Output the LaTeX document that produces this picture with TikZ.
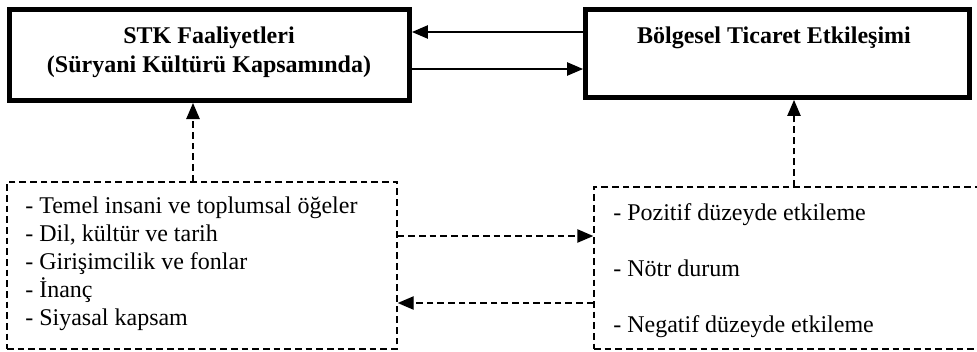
\documentclass[tikz,border=0pt]{standalone}
\usepackage{fontspec}
\setmainfont{Liberation Serif}
\usetikzlibrary{arrows.meta}

\tikzset{
  mainbox/.style={draw, line width=4pt, inner sep=0pt},
  listbox/.style={draw, line width=1.1pt, dash pattern=on 5pt off 3pt, inner sep=0pt},
  flow/.style={line width=1.1pt, -{Triangle[length=12pt,width=10pt]}},
  dflow/.style={flow, dash pattern=on 5pt off 3pt},
}

\begin{document}
\begin{tikzpicture}[x=0.75pt, y=-0.75pt, font=\fontsize{18}{21.5}\selectfont]
			\clip (0,0) rectangle (977,351);
			% ana kutular
			\node[mainbox, minimum width=299.7pt, minimum height=68pt] (stk) at (209.5,55) {};
			\node[mainbox, minimum width=287.7pt, minimum height=65.7pt] (bte) at (777.5,53.5) {};
			\node[anchor=base, font=\fontsize{18}{21.5}\selectfont\bfseries] (stk1) at (209,43) {STK Faaliyetleri};
			\node[anchor=base, font=\fontsize{18}{21.5}\selectfont\bfseries] (stk2) at (209,72) {(Süryani Kültürü Kapsamında)};
			\node[anchor=base, font=\fontsize{18}{21.5}\selectfont\bfseries] (bte1) at (774,43) {Bölgesel Ticaret Etkileşimi};
			% kesikli kutular
			\node[listbox, minimum width=292.5pt, minimum height=125.25pt] (sol) at (202,265.5) {};
			\node[listbox, minimum width=304.5pt, minimum height=121.5pt] (sag) at (797,268) {};
			\foreach \t [count=\i] in {{- Temel insani ve toplumsal öğeler}, {- Dil, kültür ve tarih}, {- Girişimcilik ve fonlar}, {- İnanç}, {- Siyasal kapsam}}
				\node[anchor=base west, inner sep=0pt] (s\i) at (25,185+28*\i) {\t};
			\foreach \t [count=\i] in {{- Pozitif düzeyde etkileme}, {- Nötr durum}, {- Negatif düzeyde etkileme}}
				\node[anchor=base west, inner sep=0pt] (r\i) at (613,164+56*\i) {\t};
			% oklar
			\draw[flow] (bte.west |- 0,32) -- (stk.east |- 0,32);
			\draw[flow] (stk.east |- 0,69) -- (bte.west |- 0,69);
			\draw[dflow] (sol.north -| 193,0) -- (stk.south -| 193,0);
			\draw[dflow] (sag.north -| 794,0) -- (bte.south -| 794,0);
			\draw[dflow] (sol.east |- 0,236) -- (sag.west |- 0,236);
			\draw[dflow] (sag.west |- 0,303) -- (sol.east |- 0,303);
		\end{tikzpicture}
\end{document}
